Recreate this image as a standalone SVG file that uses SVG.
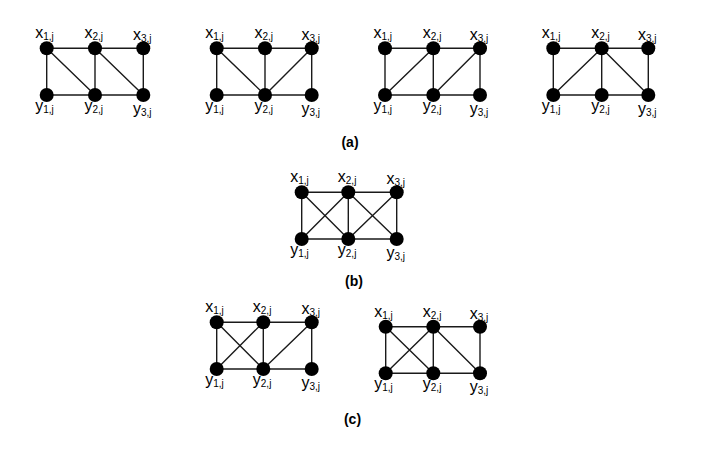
<svg xmlns="http://www.w3.org/2000/svg" width="701" height="454" viewBox="0 0 701 454">
<style>
.e{stroke:#1a1a1a;stroke-width:1.4;fill:none}
.n{fill:#000}
.l{font-family:"Liberation Sans",Arial,sans-serif;font-size:16px;fill:#000}
.s{font-size:10px}
.t{font-family:"Liberation Sans",Arial,sans-serif;font-size:14px;font-weight:bold;fill:#000;text-anchor:middle}
</style>
<rect width="701" height="454" fill="#fff"/>
<g id="connectors">
<path class="e" d="M46.7 48.3H143.3V95H46.7Z M95 48.3V95 M46.7 48.3L95 95 M95 48.3L143.3 95"/>
<path class="e" d="M216.7 48.3H311.7V95H216.7Z M265 48.3V95 M216.7 48.3L265 95 M311.7 48.3L265 95"/>
<path class="e" d="M385 48.3H480V95H385Z M433.3 48.3V95 M385 95L433.3 48.3 M433.3 95L480 48.3"/>
<path class="e" d="M553.3 48.3H648.3V95H553.3Z M601.7 48.3V95 M553.3 95L601.7 48.3 M601.7 48.3L648.3 95"/>
<path class="e" d="M301.7 192.3H396.7V239H301.7Z M348.3 192.3V239 M301.7 192.3L348.3 239 M301.7 239L348.3 192.3 M348.3 192.3L396.7 239 M348.3 239L396.7 192.3"/>
<path class="e" d="M216.7 322.3H311.7V369H216.7Z M263.3 322.3V369 M216.7 322.3L263.3 369 M216.7 369L263.3 322.3 M263.3 369L311.7 322.3"/>
<path class="e" d="M385.7 326.7H480V373.3H385.7Z M433.3 326.7V373.3 M385.7 326.7L433.3 373.3 M385.7 373.3L433.3 326.7 M433.3 326.7L480 373.3"/>
</g>
<g id="a1-x1"><circle class="n" cx="46.7" cy="48.3" r="7"/><text class="l" x="35.2" y="38.3">x<tspan class="s" dy="2">1,j</tspan></text></g>
<g id="a1-x2"><circle class="n" cx="95" cy="48.3" r="7"/><text class="l" x="84.5" y="38.3">x<tspan class="s" dy="2">2,j</tspan></text></g>
<g id="a1-x3"><circle class="n" cx="143.3" cy="48.3" r="7"/><text class="l" x="133" y="40.3">x<tspan class="s" dy="2">3,j</tspan></text></g>
<g id="a1-y1"><circle class="n" cx="46.7" cy="95" r="7"/><text class="l" x="35.2" y="111">y<tspan class="s" dy="2">1,j</tspan></text></g>
<g id="a1-y2"><circle class="n" cx="95" cy="95" r="7"/><text class="l" x="84.5" y="111">y<tspan class="s" dy="2">2,j</tspan></text></g>
<g id="a1-y3"><circle class="n" cx="143.3" cy="95" r="7"/><text class="l" x="133" y="114">y<tspan class="s" dy="2">3,j</tspan></text></g>
<g id="a2-x1"><circle class="n" cx="216.7" cy="48.3" r="7"/><text class="l" x="205.2" y="38.3">x<tspan class="s" dy="2">1,j</tspan></text></g>
<g id="a2-x2"><circle class="n" cx="265" cy="48.3" r="7"/><text class="l" x="254.5" y="38.3">x<tspan class="s" dy="2">2,j</tspan></text></g>
<g id="a2-x3"><circle class="n" cx="311.7" cy="48.3" r="7"/><text class="l" x="301.4" y="40.3">x<tspan class="s" dy="2">3,j</tspan></text></g>
<g id="a2-y1"><circle class="n" cx="216.7" cy="95" r="7"/><text class="l" x="205.2" y="111">y<tspan class="s" dy="2">1,j</tspan></text></g>
<g id="a2-y2"><circle class="n" cx="265" cy="95" r="7"/><text class="l" x="254.5" y="111">y<tspan class="s" dy="2">2,j</tspan></text></g>
<g id="a2-y3"><circle class="n" cx="311.7" cy="95" r="7"/><text class="l" x="301.4" y="114">y<tspan class="s" dy="2">3,j</tspan></text></g>
<g id="a3-x1"><circle class="n" cx="385" cy="48.3" r="7"/><text class="l" x="373.5" y="38.3">x<tspan class="s" dy="2">1,j</tspan></text></g>
<g id="a3-x2"><circle class="n" cx="433.3" cy="48.3" r="7"/><text class="l" x="422.8" y="38.3">x<tspan class="s" dy="2">2,j</tspan></text></g>
<g id="a3-x3"><circle class="n" cx="480" cy="48.3" r="7"/><text class="l" x="469.7" y="40.3">x<tspan class="s" dy="2">3,j</tspan></text></g>
<g id="a3-y1"><circle class="n" cx="385" cy="95" r="7"/><text class="l" x="373.5" y="111">y<tspan class="s" dy="2">1,j</tspan></text></g>
<g id="a3-y2"><circle class="n" cx="433.3" cy="95" r="7"/><text class="l" x="422.8" y="111">y<tspan class="s" dy="2">2,j</tspan></text></g>
<g id="a3-y3"><circle class="n" cx="480" cy="95" r="7"/><text class="l" x="469.7" y="114">y<tspan class="s" dy="2">3,j</tspan></text></g>
<g id="a4-x1"><circle class="n" cx="553.3" cy="48.3" r="7"/><text class="l" x="541.8" y="38.3">x<tspan class="s" dy="2">1,j</tspan></text></g>
<g id="a4-x2"><circle class="n" cx="601.7" cy="48.3" r="7"/><text class="l" x="591.2" y="38.3">x<tspan class="s" dy="2">2,j</tspan></text></g>
<g id="a4-x3"><circle class="n" cx="648.3" cy="48.3" r="7"/><text class="l" x="638" y="40.3">x<tspan class="s" dy="2">3,j</tspan></text></g>
<g id="a4-y1"><circle class="n" cx="553.3" cy="95" r="7"/><text class="l" x="541.8" y="111">y<tspan class="s" dy="2">1,j</tspan></text></g>
<g id="a4-y2"><circle class="n" cx="601.7" cy="95" r="7"/><text class="l" x="591.2" y="111">y<tspan class="s" dy="2">2,j</tspan></text></g>
<g id="a4-y3"><circle class="n" cx="648.3" cy="95" r="7"/><text class="l" x="638" y="114">y<tspan class="s" dy="2">3,j</tspan></text></g>
<g id="b-x1"><circle class="n" cx="301.7" cy="192.3" r="7"/><text class="l" x="290.2" y="182.3">x<tspan class="s" dy="2">1,j</tspan></text></g>
<g id="b-x2"><circle class="n" cx="348.3" cy="192.3" r="7"/><text class="l" x="337.8" y="182.3">x<tspan class="s" dy="2">2,j</tspan></text></g>
<g id="b-x3"><circle class="n" cx="396.7" cy="192.3" r="7"/><text class="l" x="386.4" y="184.3">x<tspan class="s" dy="2">3,j</tspan></text></g>
<g id="b-y1"><circle class="n" cx="301.7" cy="239" r="7"/><text class="l" x="290.2" y="255">y<tspan class="s" dy="2">1,j</tspan></text></g>
<g id="b-y2"><circle class="n" cx="348.3" cy="239" r="7"/><text class="l" x="337.8" y="255">y<tspan class="s" dy="2">2,j</tspan></text></g>
<g id="b-y3"><circle class="n" cx="396.7" cy="239" r="7"/><text class="l" x="386.4" y="258">y<tspan class="s" dy="2">3,j</tspan></text></g>
<g id="c1-x1"><circle class="n" cx="216.7" cy="322.3" r="7"/><text class="l" x="205.2" y="312.3">x<tspan class="s" dy="2">1,j</tspan></text></g>
<g id="c1-x2"><circle class="n" cx="263.3" cy="322.3" r="7"/><text class="l" x="252.8" y="312.3">x<tspan class="s" dy="2">2,j</tspan></text></g>
<g id="c1-x3"><circle class="n" cx="311.7" cy="322.3" r="7"/><text class="l" x="301.4" y="314.3">x<tspan class="s" dy="2">3,j</tspan></text></g>
<g id="c1-y1"><circle class="n" cx="216.7" cy="369" r="7"/><text class="l" x="205.2" y="385">y<tspan class="s" dy="2">1,j</tspan></text></g>
<g id="c1-y2"><circle class="n" cx="263.3" cy="369" r="7"/><text class="l" x="252.8" y="385">y<tspan class="s" dy="2">2,j</tspan></text></g>
<g id="c1-y3"><circle class="n" cx="311.7" cy="369" r="7"/><text class="l" x="301.4" y="388">y<tspan class="s" dy="2">3,j</tspan></text></g>
<g id="c2-x1"><circle class="n" cx="385.7" cy="326.7" r="7"/><text class="l" x="374.2" y="316.7">x<tspan class="s" dy="2">1,j</tspan></text></g>
<g id="c2-x2"><circle class="n" cx="433.3" cy="326.7" r="7"/><text class="l" x="422.8" y="316.7">x<tspan class="s" dy="2">2,j</tspan></text></g>
<g id="c2-x3"><circle class="n" cx="480" cy="326.7" r="7"/><text class="l" x="469.7" y="318.7">x<tspan class="s" dy="2">3,j</tspan></text></g>
<g id="c2-y1"><circle class="n" cx="385.7" cy="373.3" r="7"/><text class="l" x="374.2" y="389.3">y<tspan class="s" dy="2">1,j</tspan></text></g>
<g id="c2-y2"><circle class="n" cx="433.3" cy="373.3" r="7"/><text class="l" x="422.8" y="389.3">y<tspan class="s" dy="2">2,j</tspan></text></g>
<g id="c2-y3"><circle class="n" cx="480" cy="373.3" r="7"/><text class="l" x="469.7" y="392.3">y<tspan class="s" dy="2">3,j</tspan></text></g>
<text class="t" x="350" y="147">(a)</text>
<text class="t" x="354" y="286">(b)</text>
<text class="t" x="352.5" y="424">(c)</text>
</svg>
